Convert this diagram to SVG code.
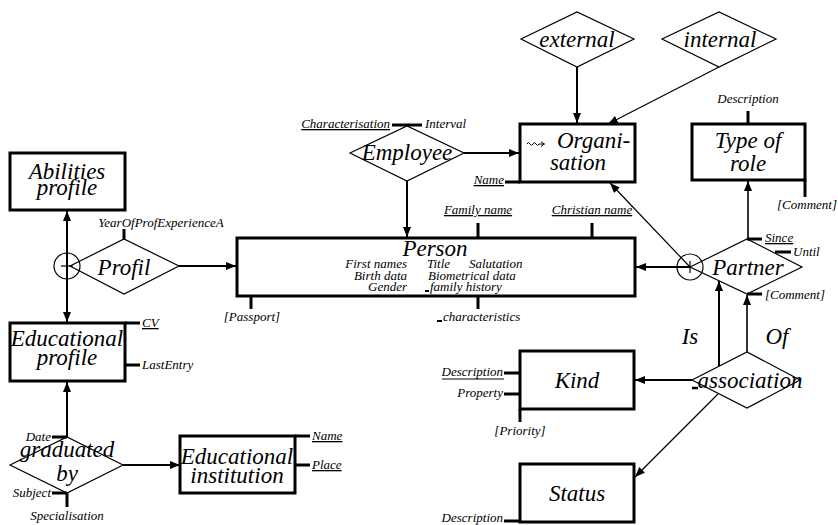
<svg xmlns="http://www.w3.org/2000/svg" width="838" height="525" viewBox="0 0 838 525" font-family="'Liberation Serif', serif" font-style="italic">
  <defs>
    <marker id="ah" viewBox="0 0 10 8" refX="10" refY="4" markerWidth="10" markerHeight="8" orient="auto" markerUnits="userSpaceOnUse">
      <path d="M0,0 L10,4 L0,8 z" fill="#000"/>
    </marker>
    <style>
      .ent { fill: #fff; stroke: #000; stroke-width: 3; }
      .rel { fill: #fff; stroke: #000; stroke-width: 1.2; }
      .lbl { font-size: 23px; text-anchor: middle; }
      .att { font-size: 13px; }
      .u { text-decoration: underline; }
      .tick { stroke: #000; stroke-width: 3; fill: none; }
      .con { stroke: #000; stroke-width: 2; fill: none; marker-end: url(#ah); }
      .thin { stroke: #000; stroke-width: 1.2; fill: none; marker-end: url(#ah); }
      .mid { text-anchor: middle; }
      .end { text-anchor: end; }
    </style>
  </defs>

  <!-- connectors -->
  <g id="connectors">
    <line class="con" x1="67" y1="266" x2="67" y2="211"/>
    <line class="con" x1="67" y1="266" x2="67" y2="322"/>
    <line class="con" x1="179" y1="266" x2="236" y2="266"/>
    <line class="con" x1="464" y1="153" x2="519" y2="153"/>
    <line class="con" x1="407" y1="181" x2="407" y2="237"/>
    <line class="con" x1="577" y1="67" x2="577" y2="123"/>
    <line class="thin" x1="719" y1="67" x2="608" y2="124"/>
    <line class="thin" x1="690" y1="267" x2="610" y2="183"/>
    <line class="con" x1="690" y1="267" x2="636" y2="267"/>
    <line class="thin" x1="748" y1="239" x2="748" y2="181" style="stroke-width:1.6"/>
    <line class="con" x1="719" y1="366" x2="719" y2="281"/>
    <line class="thin" x1="747" y1="352" x2="747" y2="295" style="stroke-width:1.6"/>
    <line class="con" x1="692" y1="380" x2="635" y2="380"/>
    <line class="thin" x1="718" y1="394" x2="635" y2="477"/>
    <line class="con" x1="67" y1="437" x2="67" y2="382"/>
    <line class="con" x1="123" y1="465" x2="180" y2="465"/>
    <text x="690" y="344" font-size="23" class="mid">Is</text>
    <text x="777" y="344" font-size="23" class="mid">Of</text>
  </g>

  <!-- Abilities profile -->
  <g id="abilities-profile">
    <rect class="ent" x="10" y="153" width="115" height="57"/>
    <text class="lbl" x="67" y="179" font-size="24">Abilities</text>
    <text class="lbl" x="67" y="195" font-size="24">profile</text>
  </g>

  <!-- Profil relationship with its circled junction -->
  <g id="profil">
    <polygon class="rel" points="70,266 124,239 179,266 124,294"/>
    <circle cx="67" cy="266" r="13" fill="none" stroke="#000" stroke-width="1.2"/>
    <line x1="61" y1="266" x2="73" y2="266" stroke="#000" stroke-width="1.2"/>
    <text class="lbl" x="124" y="275" font-size="24">Profil</text>
    <line class="tick" x1="124" y1="239" x2="124" y2="229"/>
    <text class="att mid" x="161" y="227">YearOfProfExperienceA</text>
  </g>

  <!-- Educational profile -->
  <g id="educational-profile">
    <rect class="ent" x="10" y="323" width="115" height="58"/>
    <text class="lbl" x="67" y="346">Educational</text>
    <text class="lbl" x="67" y="365">profile</text>
    <line class="tick" x1="125" y1="323" x2="140" y2="323"/>
    <text class="att u" x="142" y="327">CV</text>
    <line class="tick" x1="125" y1="365" x2="140" y2="365"/>
    <text class="att" x="142" y="369">LastEntry</text>
  </g>

  <!-- graduated by -->
  <g id="graduated-by">
    <polygon class="rel" points="10,465 67,437 123,465 67,493"/>
    <text class="lbl" x="67" y="457" font-size="24">graduated</text>
    <text class="lbl" x="67" y="481" font-size="24">by</text>
    <line class="tick" x1="52" y1="437" x2="67" y2="437"/>
    <text class="att end" x="51" y="441">Date</text>
    <line class="tick" x1="52" y1="493" x2="67" y2="493"/>
    <text class="att end" x="51" y="497">Subject</text>
    <line class="tick" x1="67" y1="493" x2="67" y2="507"/>
    <text class="att mid" x="67" y="520">Specialisation</text>
  </g>

  <!-- Educational institution -->
  <g id="educational-institution">
    <rect class="ent" x="180" y="436" width="115" height="57"/>
    <text class="lbl" x="237" y="464">Educational</text>
    <text class="lbl" x="237" y="483">institution</text>
    <line class="tick" x1="295" y1="436" x2="310" y2="436"/>
    <text class="att u" x="312" y="440">Name</text>
    <line class="tick" x1="295" y1="465" x2="310" y2="465"/>
    <text class="att u" x="312" y="469">Place</text>
  </g>

  <!-- Person -->
  <g id="person">
    <rect class="ent" x="237" y="238" width="398" height="58"/>
    <text class="lbl" x="435" y="256">Person</text>
    <text class="att end" x="407" y="268">First names</text>
    <text class="att" x="427" y="268">Title</text>
    <text class="att" x="469" y="268">Salutation</text>
    <text class="att end" x="407" y="280">Birth data</text>
    <text class="att" x="428" y="280">Biometrical data</text>
    <text class="att end" x="407" y="291">Gender</text>
    <line x1="425" y1="291" x2="429" y2="291" stroke="#000" stroke-width="2"/>
    <text class="att" x="430" y="291">family history</text>
    <line class="tick" x1="478" y1="223" x2="478" y2="238"/>
    <text class="att mid u" x="478" y="214">Family name</text>
    <line class="tick" x1="592" y1="223" x2="592" y2="238"/>
    <text class="att mid u" x="592" y="214">Christian name</text>
    <line class="tick" x1="251" y1="296" x2="251" y2="309"/>
    <text class="att mid" x="252" y="321">[Passport]</text>
    <line class="tick" x1="478" y1="296" x2="478" y2="309"/>
    <line x1="437" y1="321" x2="442" y2="321" stroke="#000" stroke-width="2"/>
    <text class="att" x="443" y="321">characteristics</text>
  </g>

  <!-- Employee -->
  <g id="employee">
    <polygon class="rel" points="350,153 407,126 464,153 407,181"/>
    <text class="lbl" x="407" y="160" font-size="25">Employee</text>
    <line class="tick" x1="392" y1="125" x2="422" y2="125"/>
    <text class="att end u" x="390" y="128">Characterisation</text>
    <text class="att" x="425" y="128">Interval</text>
  </g>

  <!-- Organisation, with a small wavy arrow mark before its name -->
  <g id="organisation">
    <rect class="ent" x="520" y="124" width="115" height="58"/>
    <path d="M527,144 q1.5,-3 3,0 t3,0 t3,0 t3,0 l6,0 M541,141.5 l3,2.5 l-3,2.5" fill="none" stroke="#000" stroke-width="1"/>
    <text x="557" y="148" font-size="23">Organi-</text>
    <text class="lbl" x="578" y="170">sation</text>
    <line class="tick" x1="505" y1="182" x2="520" y2="182"/>
    <text class="att end u" x="504" y="184">Name</text>
  </g>

  <!-- external -->
  <g id="external">
    <polygon class="rel" points="521,39 577,12 634,39 577,67"/>
    <text class="lbl" x="577" y="47">external</text>
  </g>

  <!-- internal -->
  <g id="internal">
    <polygon class="rel" points="662,39 719,12 776,39 719,67"/>
    <text class="lbl" x="720" y="47">internal</text>
  </g>

  <!-- Type of role -->
  <g id="type-of-role">
    <rect class="ent" x="692" y="124" width="113" height="56"/>
    <text class="lbl" x="748" y="148">Type of</text>
    <text class="lbl" x="748" y="171">role</text>
    <line class="tick" x1="748" y1="111" x2="748" y2="124"/>
    <text class="att mid" x="748" y="103">Description</text>
    <line class="tick" x1="805" y1="180" x2="805" y2="197"/>
    <text class="att end" x="837" y="209">[Comment]</text>
  </g>

  <!-- Partner with its circled junction -->
  <g id="partner">
    <polygon class="rel" points="690,267 747,239 802,267 747,294"/>
    <circle cx="690" cy="267" r="13" fill="none" stroke="#000" stroke-width="1.2"/>
    <line x1="690" y1="261" x2="690" y2="273" stroke="#000" stroke-width="1.2"/>
    <text class="lbl" x="748" y="275">Partner</text>
    <line class="tick" x1="747" y1="239" x2="762" y2="239"/>
    <text class="att u" x="765" y="242">Since</text>
    <line class="tick" x1="775" y1="252" x2="791" y2="252"/>
    <text class="att" x="793" y="256">Until</text>
    <line class="tick" x1="747" y1="294" x2="762" y2="294"/>
    <text class="att" x="765" y="299">[Comment]</text>
  </g>

  <!-- association -->
  <g id="association">
    <polygon class="rel" points="692,380 747,352 800,380 747,408"/>
    <line x1="692" y1="388" x2="698" y2="388" stroke="#000" stroke-width="2.5"/>
    <text class="lbl" x="750" y="388">association</text>
  </g>

  <!-- Kind -->
  <g id="kind">
    <rect class="ent" x="520" y="351" width="114" height="58"/>
    <text class="lbl" x="577" y="388">Kind</text>
    <line class="tick" x1="504" y1="373" x2="520" y2="373"/>
    <text class="att end" x="503" y="376">Description</text>
    <line x1="442" y1="379" x2="504" y2="379" stroke="#000" stroke-width="1"/>
    <line class="tick" x1="504" y1="394" x2="520" y2="394"/>
    <text class="att end" x="503" y="397">Property</text>
    <line class="tick" x1="520" y1="409" x2="520" y2="422"/>
    <text class="att mid" x="520" y="435">[Priority]</text>
  </g>

  <!-- Status -->
  <g id="status">
    <rect class="ent" x="520" y="464" width="114" height="58"/>
    <text class="lbl" x="577" y="501">Status</text>
    <line class="tick" x1="504" y1="521" x2="520" y2="521"/>
    <text class="att end" x="503" y="522">Description</text>
  </g>
</svg>
